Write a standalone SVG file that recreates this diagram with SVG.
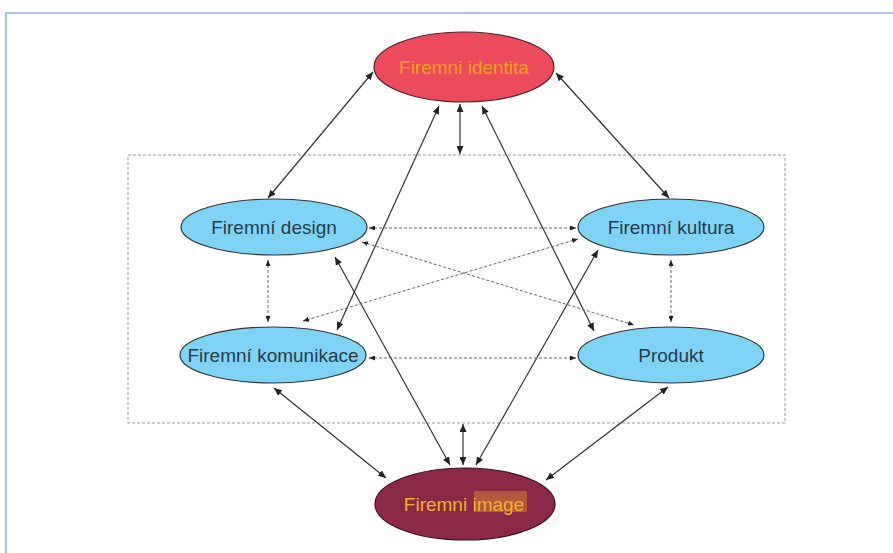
<svg xmlns="http://www.w3.org/2000/svg" width="893" height="553" viewBox="0 0 893 553">
<style>
.solid{stroke:#333;stroke-width:1.2;fill:none;marker-start:url(#a);marker-end:url(#a)}
.dash{stroke:#666;stroke-width:1;stroke-dasharray:3,2;fill:none;marker-start:url(#b);marker-end:url(#b)}
.blue{fill:#7fd4f6;stroke:#333;stroke-width:1.2}
.bt{font-family:"Liberation Sans",Arial,sans-serif;font-size:19px;fill:#2c3a48;text-anchor:middle}
.ot{font-family:"Liberation Sans",Arial,sans-serif;font-size:19px;text-anchor:middle}
</style>
<defs>
<marker id="a" markerUnits="userSpaceOnUse" markerWidth="9" markerHeight="7" refX="8" refY="3.5" orient="auto-start-reverse"><path d="M0,0 L8,3.5 L0,7 z" fill="#222"/></marker>
<marker id="b" markerUnits="userSpaceOnUse" markerWidth="7" markerHeight="5" refX="6" refY="2.5" orient="auto-start-reverse"><path d="M0,0 L6,2.5 L0,5 z" fill="#222"/></marker>
</defs>
<rect width="893" height="553" fill="#fff"/>
<path d="M6,553 V13 H893" fill="none" stroke="#a9c1e3" stroke-width="2"/>
<rect x="128" y="155" width="657" height="268" fill="none" stroke="#999" stroke-width="1" stroke-dasharray="3,2"/>
<g id="connectors">
<line class="solid" x1="373" y1="72" x2="268" y2="198"/>
<line class="solid" x1="556" y1="73" x2="669" y2="198"/>
<line class="solid" x1="460" y1="104" x2="460" y2="154"/>
<line class="solid" x1="439" y1="106" x2="337" y2="330"/>
<line class="solid" x1="482" y1="106" x2="594" y2="331"/>
<line class="solid" x1="335" y1="257" x2="450" y2="465"/>
<line class="solid" x1="598" y1="250" x2="476" y2="465"/>
<line class="solid" x1="463" y1="424" x2="463" y2="465"/>
<line class="solid" x1="274" y1="388" x2="386" y2="478"/>
<line class="solid" x1="668" y1="387" x2="546" y2="480"/>
<line class="dash" x1="369" y1="228" x2="576" y2="228"/>
<line class="dash" x1="369" y1="358" x2="576" y2="358"/>
<line class="dash" x1="268" y1="260" x2="268" y2="322"/>
<line class="dash" x1="671" y1="260" x2="671" y2="322"/>
<line class="dash" x1="362" y1="242" x2="634" y2="325"/>
<line class="dash" x1="578" y1="239" x2="303" y2="321"/>
</g>
<g id="identita">
<ellipse cx="464" cy="67" rx="90" ry="35" fill="#ec4b5c" stroke="#4a2030" stroke-width="1.2"/>
<text x="464" y="74" class="ot" fill="#f7a21b">Firemni identita</text>
</g>
<g id="design">
<ellipse cx="274" cy="227" rx="93" ry="28" class="blue"/>
<text x="274" y="234" class="bt">Firemní design</text>
</g>
<g id="kultura">
<ellipse cx="671" cy="227" rx="93" ry="28" class="blue"/>
<text x="671" y="234" class="bt">Firemní kultura</text>
</g>
<g id="komunikace">
<ellipse cx="273" cy="355" rx="93" ry="28" class="blue"/>
<text x="273" y="362" class="bt">Firemní komunikace</text>
</g>
<g id="produkt">
<ellipse cx="671" cy="355" rx="93" ry="28" class="blue"/>
<text x="671" y="362" class="bt">Produkt</text>
</g>
<g id="image">
<ellipse cx="465" cy="504" rx="90" ry="36" fill="#8b2845" stroke="#3a1020" stroke-width="1.2"/>
<rect x="474" y="491" width="53" height="21" fill="#b4583c"/>
<text x="464" y="511" class="ot" fill="#f2b22a">Firemni image</text>
</g>
</svg>
